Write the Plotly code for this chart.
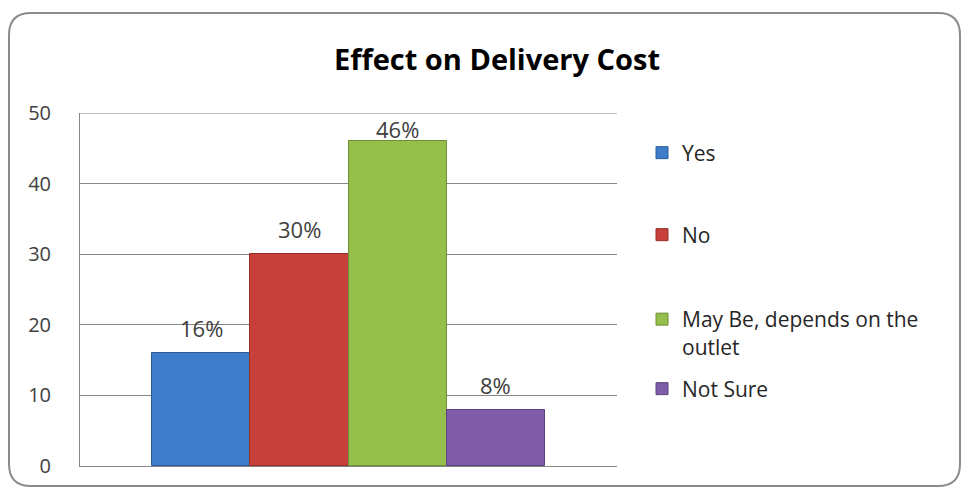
import plotly.graph_objects as go

categories = ["Yes", "No", "May Be, depends on the outlet", "Not Sure"]
legend_names = ["Yes", "No", "May Be, depends on the<br>outlet", "Not Sure"]
values = [16, 30, 46, 8]
labels = ["16%", "30%", "46%", "8%"]
colors = ["#3D7CC9", "#C8403C", "#96BE4A", "#7E5CA8"]
edge_colors = ["#2B5C99", "#952E2B", "#6F8F33", "#5C4280"]
y_ticks = [0, 10, 20, 30, 40, 50]
legend_centers_px = [153, 235, 333, 389]

W, H = 962, 490
ml, mr, mt, mb = 80, 345, 113, 24
pw, ph = W - ml - mr, H - mt - mb
FONT = "Open Sans, Lato, sans-serif"

def px(x):
    return (x - ml) / pw

def py(y):
    return (H - mb - y) / ph

fig = go.Figure()
legend_layouts = {}
for i, (c, v) in enumerate(zip(categories, values)):
    lname = "legend" if i == 0 else f"legend{i + 1}"
    fig.add_trace(go.Bar(
        x=[c], y=[v], name=legend_names[i], legend=lname,
        marker=dict(color=colors[i], line=dict(color=edge_colors[i], width=1)),
        hoverinfo="skip",
    ))
    headroom = (max(y_ticks) - v) * ph / max(y_ticks)
    fig.add_annotation(x=c, y=v, text=labels[i], showarrow=False,
                       yanchor="middle", yshift=min(25, headroom - 16),
                       font=dict(size=22, color="#404040", family=FONT))
    legend_layouts[lname] = dict(
        x=px(642), xanchor="left", y=py(legend_centers_px[i]), yanchor="middle",
        font=dict(size=21, color="#262626", family=FONT), valign="top",
        itemwidth=30, bgcolor="rgba(0,0,0,0)")

# top gridline at the axis maximum
fig.add_shape(type="line", xref="paper", yref="y", x0=0, x1=1,
              y0=max(y_ticks), y1=max(y_ticks),
              line=dict(color="#868686", width=1))

# rounded outer border
x0, x1, y0, y1, r = 9, 960, 13, 486, 22
path = (f"M {px(x0+r)},{py(y0)} L {px(x1-r)},{py(y0)} "
        f"Q {px(x1)},{py(y0)} {px(x1)},{py(y0+r)} "
        f"L {px(x1)},{py(y1-r)} Q {px(x1)},{py(y1)} {px(x1-r)},{py(y1)} "
        f"L {px(x0+r)},{py(y1)} Q {px(x0)},{py(y1)} {px(x0)},{py(y1-r)} "
        f"L {px(x0)},{py(y0+r)} Q {px(x0)},{py(y0)} {px(x0+r)},{py(y0)} Z")
fig.add_shape(type="path", path=path, xref="paper", yref="paper",
              line=dict(color="#8C8C8C", width=2), layer="below")

fig.update_layout(
    width=W, height=H,
    margin=dict(l=ml, r=mr, t=mt, b=mb),
    paper_bgcolor="white", plot_bgcolor="white",
    font=dict(family=FONT, color="#262626"),
    title=dict(text="<b>Effect on Delivery Cost</b>", x=497 / W, xanchor="center",
               y=1 - 60 / H, yanchor="middle",
               font=dict(size=29, color="#000000", family=FONT)),
    barmode="overlay", bargap=0,
    showlegend=True,
    xaxis=dict(range=[-1.233, 4.233], showticklabels=False, showgrid=False,
               showline=True, linecolor="#868686", linewidth=1, zeroline=False,
               fixedrange=True),
    yaxis=dict(range=[0, 50], tickvals=y_ticks, showgrid=True,
               gridcolor="#868686", gridwidth=1, showline=True,
               linecolor="#868686", linewidth=1, zeroline=False,
               ticks="", ticklabelstandoff=24,
               tickfont=dict(size=20, color="#404040", family=FONT)),
    **legend_layouts,
)
fig.write_html("out.html", config={"displayModeBar": False},
               post_script="document.body.style.margin='0';")
